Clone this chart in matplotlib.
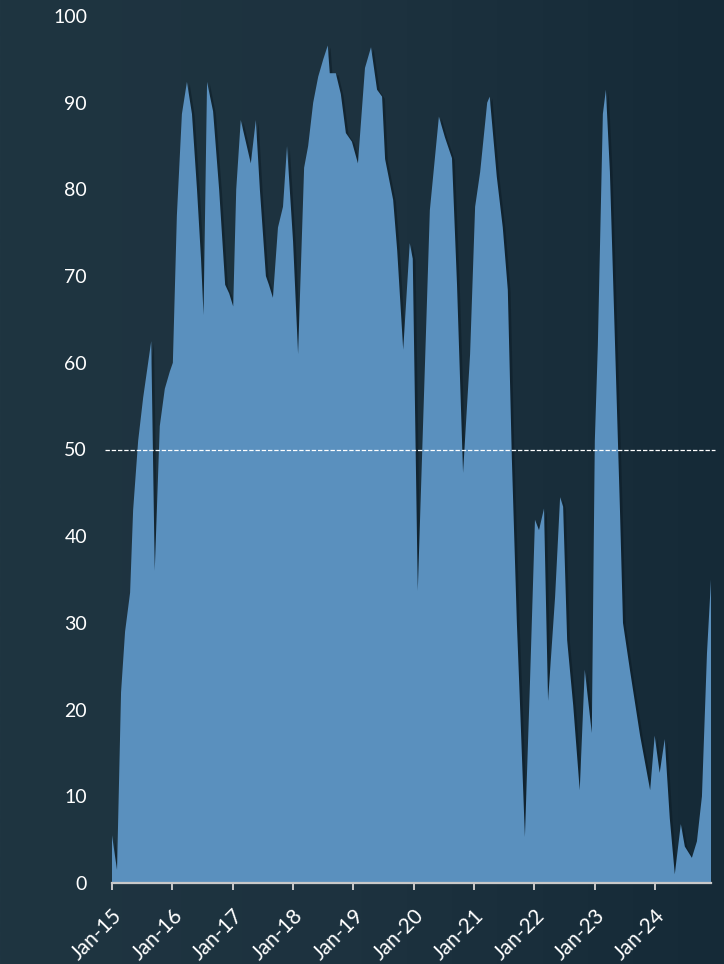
import numpy as np
import matplotlib
matplotlib.use("Agg")
import matplotlib.pyplot as plt
import matplotlib.patheffects as pe
from matplotlib.colors import LinearSegmentedColormap

# months since Jan-2015 and values
months = [0.0, 1.0, 1.8, 2.6, 3.6, 4.2, 5.2, 6.2, 7.8, 8.5, 9.5, 10.5, 11.5,
          12.1, 12.9, 13.9, 14.9, 15.9, 16.9, 17.7, 18.2, 18.9, 20.1, 21.3, 22.5, 23.3,
          24.1, 24.7, 25.6, 27.6, 28.6, 29.4, 30.6, 31.2, 32.0, 33.0, 34.0, 34.8,
          36.0, 37.0, 38.2, 39.0, 40.0, 41.0, 42.0, 42.9, 43.3, 44.5, 45.5, 46.5, 47.7,
          48.9, 50.3, 51.5, 52.7, 53.7, 54.3, 55.9, 56.7, 57.9, 59.2, 59.8,
          60.8, 63.2, 65.0, 66.2, 67.6, 68.6, 69.8, 71.2,
          72.2, 73.2, 74.6, 75.1, 76.5, 77.7, 78.7, 79.5, 80.5, 81.1, 82.1, 83.1,
          84.1, 84.9, 85.9, 86.7, 88.1, 89.1, 89.7, 90.5, 91.7, 93.0, 94.0, 95.4,
          96.0, 96.6, 97.6, 98.2, 99.0, 100.0, 101.0, 101.6, 103.0, 105.0, 107.0,
          107.9, 108.9, 109.9, 110.9, 111.9, 113.1, 113.9, 115.3, 116.3, 117.3, 118.3, 119.1]
values = [5.5, 1.5, 22, 29, 33.5, 43, 51, 56, 62.5, 36, 52.7, 57, 59,
          60, 77, 88.7, 92.4, 88.7, 80, 72, 65.5, 92.4, 89, 80, 69, 68,
          66.5, 80, 88, 83, 88, 80, 70, 69, 67.5, 75.6, 78, 85,
          74, 61, 82.5, 85, 90, 93, 95, 96.6, 93.4, 93.4, 91, 86.5, 85.5,
          83, 94, 96.4, 91.5, 90.7, 83.5, 78.8, 73, 61.5, 73.8, 72,
          33.7, 77.6, 88.4, 86, 83.6, 69, 47.3, 61,
          78, 82, 90, 90.7, 81.5, 75.6, 68.4, 49, 30, 21, 5.3, 23,
          41.9, 40.7, 43.2, 21, 33, 44.5, 43.4, 28, 20.5, 10.7, 24.6, 17.3,
          51, 62, 88.7, 91.5, 82, 62.5, 43, 30, 24.5, 17, 10.7,
          17, 12.7, 16.6, 7.5, 1, 6.8, 4.2, 2.9, 4.8, 10, 26.5, 35]

tick_months = [0, 12, 24, 36, 48, 60, 72, 84, 96, 108]
tick_labels = ["Jan-15", "Jan-16", "Jan-17", "Jan-18", "Jan-19",
               "Jan-20", "Jan-21", "Jan-22", "Jan-23", "Jan-24"]
y_ticks = [0, 10, 20, 30, 40, 50, 60, 70, 80, 90, 100]
threshold = 50

plt.rcParams['font.family'] = ['Lato', 'DejaVu Sans']

fig = plt.figure(figsize=(7.24, 9.64), dpi=100)

# background gradient
bg = fig.add_axes([0, 0, 1, 1], zorder=-5)
grad = np.linspace(0, 1, 256)[None, :]
cmap = LinearSegmentedColormap.from_list("bg", ["#1f3541", "#1d323f", "#152a37"])
bg.imshow(grad, aspect='auto', cmap=cmap, extent=[0, 1, 0, 1])
bg.axis('off')

ax = fig.add_axes([112/724, 81/964, 599/724, 867/964])
ax.set_facecolor('none')

ax.fill_between(months, values, 0, color='#5a90be', linewidth=0,
                path_effects=[pe.SimplePatchShadow(offset=(2.0, -1.5),
                                                   shadow_rgbFace='#0b1a24', alpha=0.5),
                              pe.Normal()])

ax.axhline(threshold, xmin=-7/599, xmax=1 + 4/599, color='white',
           linestyle=(0, (3.5, 1.5)), linewidth=0.9, clip_on=False, zorder=5)

ax.set_xlim(0, 119.1)
ax.set_ylim(0, 100)
ax.set_yticks(y_ticks)
ax.set_xticks(tick_months)
ax.set_xticklabels(tick_labels, rotation=45, ha='right', va='top',
                   rotation_mode='anchor')

for s in ['left', 'right', 'top']:
    ax.spines[s].set_visible(False)
ax.spines['bottom'].set_color('#c9c9c9')
ax.spines['bottom'].set_linewidth(1.6)
ax.spines['bottom'].set_zorder(6)

ax.tick_params(axis='y', length=0, pad=18, labelcolor='white', labelsize=14)
ax.tick_params(axis='x', length=5, width=1.4, color='#c9c9c9', pad=11,
               labelcolor='white', labelsize=15)

fig.savefig("out.png", dpi=100)
